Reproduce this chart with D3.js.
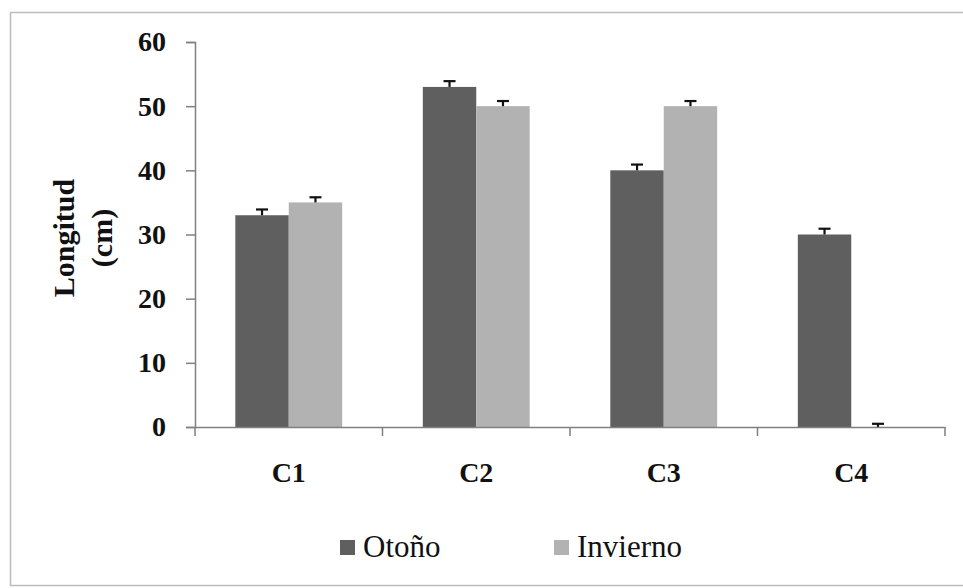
<!DOCTYPE html>
<html>
<head>
<meta charset="utf-8">
<script src="https://cdn.jsdelivr.net/npm/d3@7"></script>
<style>
  body { margin: 0; background: #fff; }
</style>
</head>
<body>
<svg id="chart" width="963" height="588"></svg>
<script>
// data
var categories = ["C1", "C2", "C3", "C4"];
var seasons = ["Otoño", "Invierno"];
var otono = [33, 53, 40, 30];
var invierno = [35, 50, 50, 0];
var otonoErr = [0.9, 0.9, 0.9, 0.9];
var inviernoErr = [0.8, 0.8, 0.8, 0.5];
var yTicks = [0, 10, 20, 30, 40, 50, 60];

var colors = ["#5f5f5f", "#b2b2b2"];
var FONT = "'Liberation Serif', 'Times New Roman', serif";

var svg = d3.select("#chart"),
    margin = { top: 42, left: 195 };

// outer frame
svg.append("rect")
    .attr("x", 10.5).attr("y", 12.5)
    .attr("width", 960).attr("height", 573)
    .attr("fill", "none")
    .attr("stroke", "#bdbdbd")
    .attr("stroke-width", 1.5);

var g = svg.append("g").attr("transform", "translate(" + margin.left + "," + margin.top + ")");

var x0 = d3.scaleBand().domain(categories).range([0, 750]).paddingInner(0.43).paddingOuter(0.215);
var x1 = d3.scaleBand().domain(seasons).range([0, x0.bandwidth()]);
var y = d3.scaleLinear().domain([0, 60]).range([385, 0]);

var rows = categories.map(function (c, i) {
    return { cat: c, vals: [
        { s: seasons[0], v: otono[i], e: otonoErr[i] },
        { s: seasons[1], v: invierno[i], e: inviernoErr[i] }
    ] };
});

// bars
var grp = g.selectAll(".grp")
    .data(rows).enter()
    .append("g")
    .attr("transform", function (d) { return "translate(" + x0(d.cat) + ",0)"; });

grp.selectAll("rect")
    .data(function (d) { return d.vals; })
    .enter().append("rect")
    .attr("x", function (d) { return x1(d.s); })
    .attr("y", function (d) { return y(d.v); })
    .attr("width", x1.bandwidth())
    .attr("height", function (d) { return y(0) - y(d.v); })
    .attr("fill", function (d, i) { return colors[i]; });

// error bars (upper only)
var eb = grp.selectAll(".eb")
    .data(function (d) { return d.vals; })
    .enter().append("g")
    .attr("transform", function (d) { return "translate(" + (x1(d.s) + x1.bandwidth() / 2) + ",0)"; });
eb.append("line")
    .attr("x1", 0).attr("x2", 0)
    .attr("y1", function (d) { return y(d.v); })
    .attr("y2", function (d) { return y(d.v + d.e); })
    .attr("stroke", "#111").attr("stroke-width", 2.2);
eb.append("line")
    .attr("x1", -6).attr("x2", 6)
    .attr("y1", function (d) { return y(d.v + d.e); })
    .attr("y2", function (d) { return y(d.v + d.e); })
    .attr("stroke", "#111").attr("stroke-width", 2.2);

// y axis
var yAxis = g.append("g")
    .call(d3.axisLeft(y).tickValues(yTicks).tickSize(9).tickPadding(20));
yAxis.attr("font-family", null);
yAxis.select(".domain").attr("stroke", "#808080").attr("stroke-width", 1.5);
yAxis.selectAll(".tick line").attr("stroke", "#808080").attr("stroke-width", 1.5);
yAxis.selectAll("text")
    .style("font-family", FONT).style("font-weight", "bold")
    .style("font-size", "28px").attr("fill", "#111");

// x axis
var xAxis = g.append("g")
    .attr("transform", "translate(0," + y(0) + ")")
    .call(d3.axisBottom(x0).tickSize(0).tickPadding(35));
xAxis.attr("font-family", null);
xAxis.select(".domain").attr("stroke", "#808080").attr("stroke-width", 1.5);
xAxis.selectAll("text")
    .style("font-family", FONT).style("font-weight", "bold")
    .style("font-size", "28px").attr("fill", "#111");

// x separators between categories
g.selectAll(".sep")
    .data(d3.range(categories.length + 1))
    .enter().append("line")
    .attr("x1", function (d) { return d * x0.step(); })
    .attr("x2", function (d) { return d * x0.step(); })
    .attr("y1", y(0)).attr("y2", y(0) + 9)
    .attr("stroke", "#808080").attr("stroke-width", 1.5);

// y axis title
var yt = svg.append("text")
    .attr("transform", "translate(0,238) rotate(-90)")
    .attr("text-anchor", "middle")
    .style("font-family", FONT).style("font-weight", "bold")
    .style("font-size", "30px").attr("fill", "#111");
yt.append("tspan").attr("x", 0).attr("y", 74).text("Longitud");
yt.append("tspan").attr("x", 0).attr("y", 112).text("(cm)");

// legend
var legX = [340, 554];
var leg = svg.selectAll(".leg")
    .data(seasons).enter()
    .append("g")
    .attr("transform", function (d, i) { return "translate(" + legX[i] + ",540)"; });
leg.append("rect")
    .attr("width", 15).attr("height", 15)
    .attr("fill", function (d, i) { return colors[i]; });
leg.append("text")
    .attr("x", 23).attr("y", 17)
    .style("font-family", FONT)
    .style("font-size", "31px")
    .attr("fill", "#111")
    .text(function (d) { return d; });
</script>
</body>
</html>
